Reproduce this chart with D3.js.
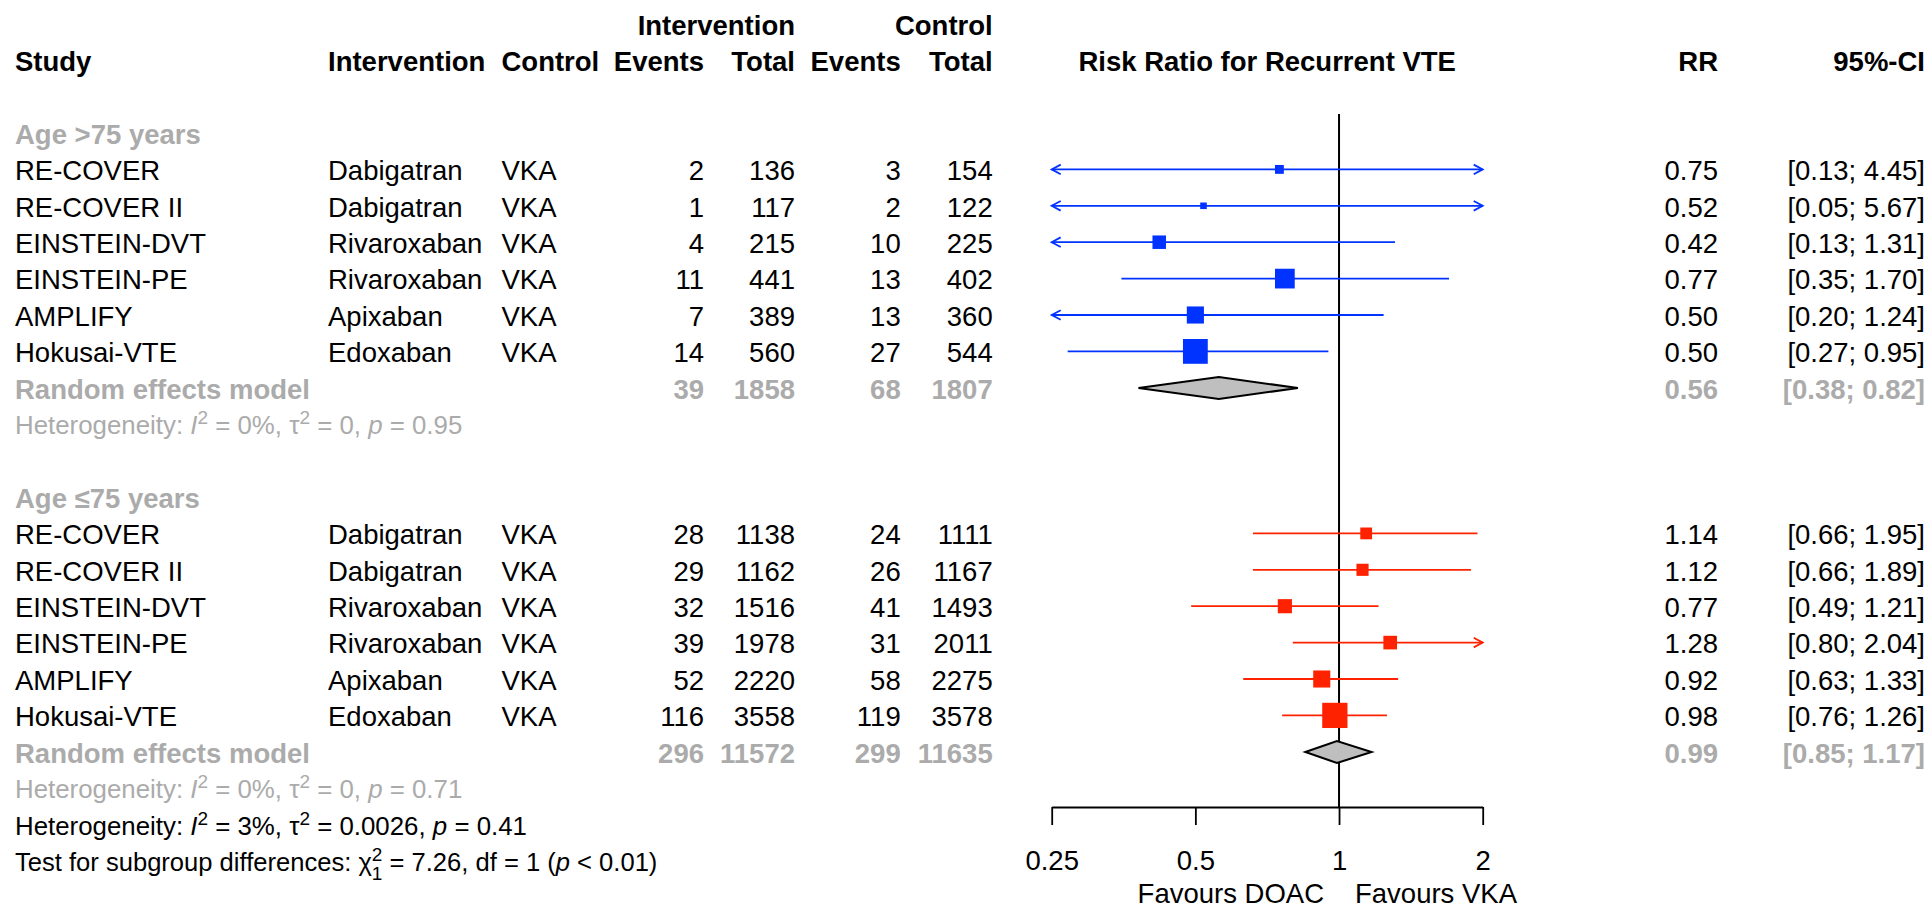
<!DOCTYPE html>
<html>
<head>
<meta charset="utf-8">
<script src="https://cdn.jsdelivr.net/npm/d3@7"></script>
<style>
  body { margin: 0; background: #fff; }
  text { font-family: "Liberation Sans", Arial, Helvetica, sans-serif; }
</style>
</head>
<body>
<div id="vis"></div>
<script>

const FRAME_WIDTH = 1932;
const FRAME_HEIGHT = 910;
const FS = 27.5;
const ROW_Y0 = 25;
const ROW_H = 36.4;
const GREY = '#ababab';

// study data
const studies = ['RE-COVER', 'RE-COVER II', 'EINSTEIN-DVT', 'EINSTEIN-PE', 'AMPLIFY', 'Hokusai-VTE'];
const drugs = ['Dabigatran', 'Dabigatran', 'Rivaroxaban', 'Rivaroxaban', 'Apixaban', 'Edoxaban'];
const comparator = 'VKA';

// age > 75
const oldEvInt = [2, 1, 4, 11, 7, 14];
const oldTotInt = [136, 117, 215, 441, 389, 560];
const oldEvCtl = [3, 2, 10, 13, 13, 27];
const oldTotCtl = [154, 122, 225, 402, 360, 544];
const oldRR = [0.75, 0.52, 0.42, 0.77, 0.50, 0.50];
const oldLow = [0.13, 0.05, 0.13, 0.35, 0.20, 0.27];
const oldHigh = [4.45, 5.67, 1.31, 1.70, 1.24, 0.95];
const oldWeight = [4.9, 2.7, 11.4, 24.3, 18.3, 38.4];
const oldPooled = {evInt: 39, totInt: 1858, evCtl: 68, totCtl: 1807, rr: 0.56, low: 0.38, high: 0.82};
const oldHet = ['0%', '0', '0.95'];

// age <= 75
const youngEvInt = [28, 29, 32, 39, 52, 116];
const youngTotInt = [1138, 1162, 1516, 1978, 2220, 3558];
const youngEvCtl = [24, 26, 41, 31, 58, 119];
const youngTotCtl = [1111, 1167, 1493, 2011, 2275, 3578];
const youngRR = [1.14, 1.12, 0.77, 1.28, 0.92, 0.98];
const youngLow = [0.66, 0.66, 0.49, 0.80, 0.63, 0.76];
const youngHigh = [1.95, 1.89, 1.21, 2.04, 1.33, 1.26];
const youngWeight = [8.7, 9.2, 12.5, 11.6, 18.2, 39.8];
const youngPooled = {evInt: 296, totInt: 11572, evCtl: 299, totCtl: 11635, rr: 0.99, low: 0.85, high: 1.17};
const youngHet = ['0%', '0', '0.71'];

const overallHet = ['3%', '0.0026', '0.41'];
const subgroupTest = {chi2: '7.26', df: '1', p: '< 0.01'};

const ticks = [0.25, 0.5, 1, 2];

function buildGroup(label, color, startRow, ev1, t1, ev2, t2, rr, lo, hi, w, pooled, het) {
  return {
    label: label, color: color, startRow: startRow, pooled: pooled, het: het,
    rows: studies.map((s, i) => ({
      study: s, drug: drugs[i], evInt: ev1[i], totInt: t1[i], evCtl: ev2[i], totCtl: t2[i],
      rr: rr[i], low: lo[i], high: hi[i], weight: w[i]
    }))
  };
}

const groups = [
  buildGroup('Age >75 years', '#0033ff', 3, oldEvInt, oldTotInt, oldEvCtl, oldTotCtl,
             oldRR, oldLow, oldHigh, oldWeight, oldPooled, oldHet),
  buildGroup('Age \u226475 years', '#ff2200', 13, youngEvInt, youngTotInt, youngEvCtl, youngTotCtl,
             youngRR, youngLow, youngHigh, youngWeight, youngPooled, youngHet)
];

// column positions
const COL = {study: 15, drug: 328, ctl: 501.5, evInt: 704, totInt: 795, evCtl: 900.7, totCtl: 992.7,
             rr: 1718, ci: 1925};

const rowY = (k) => ROW_Y0 + k * ROW_H;

const FRAME = d3.select('#vis')
  .append('svg')
    .attr('width', FRAME_WIDTH)
    .attr('height', FRAME_HEIGHT);

const X_SCALE = d3.scaleLog().base(2)
  .domain([0.25, 2])
  .range([1051.7, 1482.7]);

const BOX_SCALE = d3.scaleSqrt()
  .domain([0, 100])
  .range([0, 40]);

function addText(x, y, str, opts) {
  opts = opts || {};
  return FRAME.append('text')
    .attr('x', x)
    .attr('y', y)
    .attr('dy', '0.35em')
    .attr('text-anchor', opts.anchor || 'start')
    .attr('font-size', FS)
    .attr('font-weight', opts.bold ? 'bold' : 'normal')
    .attr('fill', opts.color || '#000')
    .text(str);
}

// headers
addText(COL.totInt, rowY(0), 'Intervention', {anchor: 'end', bold: true});
addText(COL.totCtl, rowY(0), 'Control', {anchor: 'end', bold: true});
addText(COL.study, rowY(1), 'Study', {bold: true});
addText(COL.drug, rowY(1), 'Intervention', {bold: true});
addText(COL.ctl, rowY(1), 'Control', {bold: true});
addText(COL.evInt, rowY(1), 'Events', {anchor: 'end', bold: true});
addText(COL.totInt, rowY(1), 'Total', {anchor: 'end', bold: true});
addText(COL.evCtl, rowY(1), 'Events', {anchor: 'end', bold: true});
addText(COL.totCtl, rowY(1), 'Total', {anchor: 'end', bold: true});
addText(X_SCALE(1 / Math.SQRT2), rowY(1), 'Risk Ratio for Recurrent VTE', {anchor: 'middle', bold: true});
addText(COL.rr, rowY(1), 'RR', {anchor: 'end', bold: true});
addText(COL.ci, rowY(1), '95%-CI', {anchor: 'end', bold: true});

const fmt = d3.format('.2f');

// reference line at RR = 1
FRAME.append('line')
  .attr('x1', X_SCALE(1)).attr('x2', X_SCALE(1))
  .attr('y1', 114).attr('y2', 807)
  .attr('stroke', '#000')
  .attr('stroke-width', 2);

function heterogeneity(y, het, color) {
  const t = addText(COL.study, y, 'Heterogeneity: ', {color: color}).attr('font-size', FS * 0.94);
  t.append('tspan').attr('font-style', 'italic').text('I');
  t.append('tspan').attr('dy', -10).attr('font-size', 19).text('2');
  t.append('tspan').attr('dy', 10).text(' = ' + het[0] + ', \u03c4');
  t.append('tspan').attr('dy', -10).attr('font-size', 19).text('2');
  t.append('tspan').attr('dy', 10).text(' = ' + het[1] + ', ');
  t.append('tspan').attr('font-style', 'italic').text('p');
  t.append('tspan').text(' = ' + het[2]);
}

groups.forEach((g) => {
  addText(COL.study, rowY(g.startRow), g.label, {bold: true, color: GREY});

  g.rows.forEach((d, i) => {
    const y = rowY(g.startRow + 1 + i);
    addText(COL.study, y, d.study);
    addText(COL.drug, y, d.drug);
    addText(COL.ctl, y, comparator);
    addText(COL.evInt, y, d.evInt, {anchor: 'end'});
    addText(COL.totInt, y, d.totInt, {anchor: 'end'});
    addText(COL.evCtl, y, d.evCtl, {anchor: 'end'});
    addText(COL.totCtl, y, d.totCtl, {anchor: 'end'});
    addText(COL.rr, y, fmt(d.rr), {anchor: 'end'});
    addText(COL.ci, y, '[' + fmt(d.low) + '; ' + fmt(d.high) + ']', {anchor: 'end'});

    const my = y - 1.2;
    const [dLo, dHi] = X_SCALE.domain();
    const x1 = X_SCALE(Math.max(d.low, dLo));
    const x2 = X_SCALE(Math.min(d.high, dHi));

    FRAME.append('line')
      .attr('x1', x1).attr('x2', x2)
      .attr('y1', my).attr('y2', my)
      .attr('stroke', g.color)
      .attr('stroke-width', 1.8);

    if (d.low < dLo) {
      FRAME.append('path')
        .attr('d', `M${x1 + 9},${my - 4.8}L${x1},${my}L${x1 + 9},${my + 4.8}`)
        .attr('fill', 'none').attr('stroke', g.color).attr('stroke-width', 1.8);
    }
    if (d.high > dHi) {
      FRAME.append('path')
        .attr('d', `M${x2 - 9},${my - 4.8}L${x2},${my}L${x2 - 9},${my + 4.8}`)
        .attr('fill', 'none').attr('stroke', g.color).attr('stroke-width', 1.8);
    }

    const s = BOX_SCALE(d.weight);
    FRAME.append('rect')
      .attr('x', X_SCALE(d.rr) - s / 2)
      .attr('y', my - s / 2)
      .attr('width', s)
      .attr('height', s)
      .attr('fill', g.color);
  });

  // pooled estimate
  const p = g.pooled;
  const py = rowY(g.startRow + 7);
  addText(COL.study, py, 'Random effects model', {bold: true, color: GREY});
  addText(COL.evInt, py, p.evInt, {anchor: 'end', bold: true, color: GREY});
  addText(COL.totInt, py, p.totInt, {anchor: 'end', bold: true, color: GREY});
  addText(COL.evCtl, py, p.evCtl, {anchor: 'end', bold: true, color: GREY});
  addText(COL.totCtl, py, p.totCtl, {anchor: 'end', bold: true, color: GREY});
  addText(COL.rr, py, fmt(p.rr), {anchor: 'end', bold: true, color: GREY});
  addText(COL.ci, py, '[' + fmt(p.low) + '; ' + fmt(p.high) + ']', {anchor: 'end', bold: true, color: GREY});

  const dy = py - 1;
  FRAME.append('path')
    .attr('d', `M${X_SCALE(p.low)},${dy}L${X_SCALE(p.rr)},${dy - 11}L${X_SCALE(p.high)},${dy}L${X_SCALE(p.rr)},${dy + 11}Z`)
    .attr('fill', '#bfbfbf')
    .attr('stroke', '#000')
    .attr('stroke-width', 2);

  heterogeneity(rowY(g.startRow + 8), g.het, GREY);
});

heterogeneity(rowY(22), overallHet, '#000');

const test = addText(COL.study, rowY(23), 'Test for subgroup differences: \u03c7').attr('font-size', FS * 0.93);
test.append('tspan').attr('dy', -10).attr('font-size', 19).text('2');
test.append('tspan').attr('dx', -10.6).attr('dy', 19).attr('font-size', 19).text(subgroupTest.df);
test.append('tspan').attr('dy', -9).text(' = ' + subgroupTest.chi2 + ', df = ' + subgroupTest.df + ' (');
test.append('tspan').attr('font-style', 'italic').text('p');
test.append('tspan').text(' ' + subgroupTest.p + ')');

// x axis
const axis = FRAME.append('g')
  .attr('transform', 'translate(0,807)')
  .call(d3.axisBottom(X_SCALE)
    .tickValues(ticks)
    .tickFormat((d) => String(d))
    .tickSize(18)
    .tickSizeOuter(0)
    .tickPadding(25));

axis.selectAll('path, line').attr('stroke', '#000').attr('stroke-width', 1.8);
axis.selectAll('text')
  .attr('font-size', FS)
  .attr('font-family', '"Liberation Sans", Arial, Helvetica, sans-serif')
  .attr('fill', '#000');

addText(X_SCALE(1) - 15, 893, 'Favours DOAC', {anchor: 'end'});
addText(X_SCALE(1) + 16, 893, 'Favours VKA');

</script>
</body>
</html>
